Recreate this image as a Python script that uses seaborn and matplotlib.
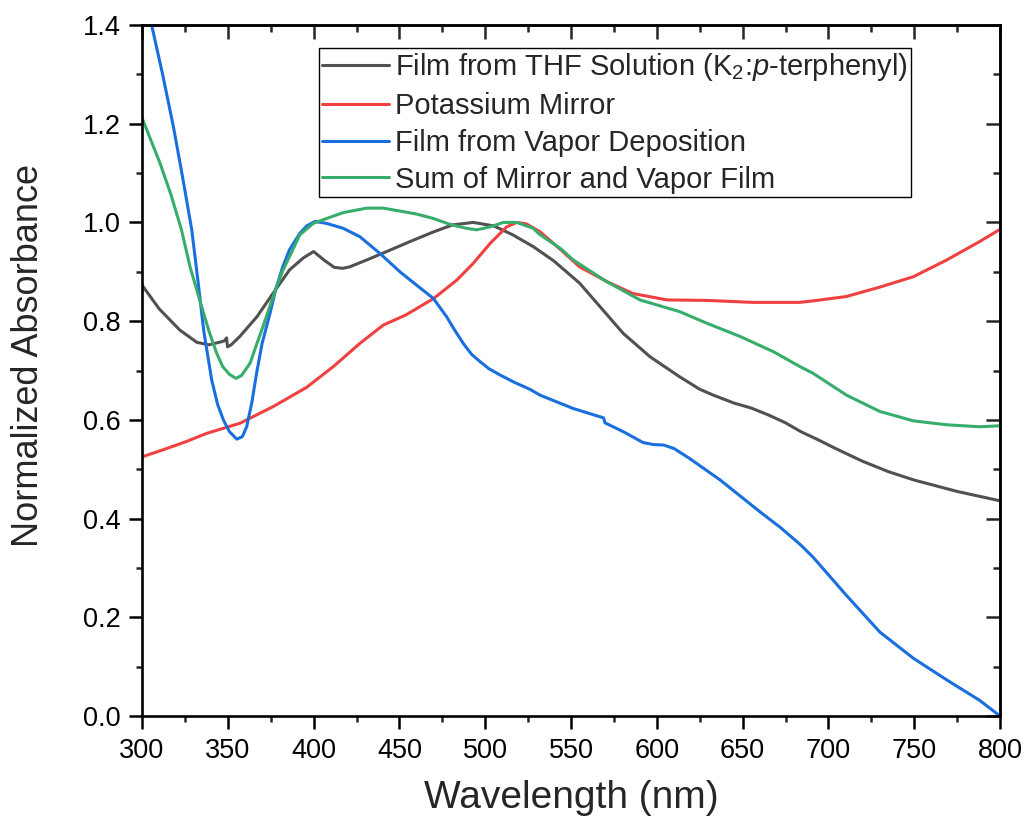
import matplotlib
matplotlib.use("Agg")
import matplotlib.pyplot as plt
from matplotlib.ticker import MultipleLocator, FormatStrFormatter
import pandas as pd
import seaborn as sns

# Film cast from THF solution (K2:p-terphenyl)
thf_nm = [300, 310, 322, 332, 339, 346, 348, 349.3, 349.8, 352, 357, 367, 376.5, 386,
          394, 400, 406, 412, 417, 421, 431, 442.6, 456, 470, 481, 493, 505, 516,
          528, 540, 555, 567, 580.5, 596, 613, 625, 633, 645, 655, 665, 675, 684,
          695, 703, 712, 720, 735, 750, 775, 800]
thf_abs = [0.873, 0.825, 0.782, 0.757, 0.752, 0.758, 0.760, 0.766, 0.748, 0.752, 0.769,
           0.809, 0.857, 0.904, 0.928, 0.941, 0.924, 0.909, 0.907, 0.910, 0.924, 0.941,
           0.961, 0.981, 0.995, 1.000, 0.993, 0.975, 0.951, 0.922, 0.877, 0.829, 0.775,
           0.728, 0.688, 0.662, 0.650, 0.634, 0.624, 0.610, 0.594, 0.576, 0.558, 0.544,
           0.529, 0.516, 0.495, 0.478, 0.455, 0.436]

# Potassium mirror
mirror_nm = [300, 312, 325, 338, 357, 376.5, 396, 411.5, 427, 440.6, 454, 470, 483.4,
             493, 503, 512.5, 518.4, 524, 532, 543.6, 555, 571, 586, 606, 629, 656,
             672, 683, 691, 710.6, 730, 749.5, 769, 788, 800]
mirror_abs = [0.525, 0.539, 0.555, 0.573, 0.593, 0.627, 0.666, 0.708, 0.755, 0.792,
              0.813, 0.846, 0.883, 0.917, 0.958, 0.991, 1.000, 0.997, 0.981, 0.946,
              0.910, 0.880, 0.856, 0.843, 0.842, 0.838, 0.838, 0.838, 0.841, 0.850,
              0.869, 0.890, 0.924, 0.961, 0.986]

# Film from vapor deposition
vapor_nm = [300, 305.6, 312, 318.3, 324, 329, 333, 336, 340.6, 344, 347.4, 351, 355.2,
            358.5, 361, 364, 366.8, 370, 374.6, 378, 382, 386, 392, 396, 400.8, 407.6,
            417.3, 427, 438.7, 450.3, 460, 469.8, 477.5, 482, 487.2, 492, 497, 502,
            508.6, 517, 526, 532, 551.3, 569, 569.8, 580.5, 592, 598, 604, 610, 619,
            637, 660, 672, 683.4, 691, 710.6, 730, 749.5, 769, 788, 800]
vapor_abs = [1.49, 1.40, 1.30, 1.194, 1.085, 0.985, 0.870, 0.780, 0.681, 0.632, 0.600,
             0.576, 0.561, 0.566, 0.586, 0.635, 0.695, 0.755, 0.816, 0.865, 0.910, 0.945,
             0.978, 0.993, 1.002, 0.998, 0.988, 0.971, 0.937, 0.900, 0.873, 0.846,
             0.809, 0.783, 0.755, 0.733, 0.718, 0.704, 0.691, 0.676, 0.662, 0.650,
             0.623, 0.604, 0.594, 0.576, 0.554, 0.550, 0.549, 0.542, 0.522, 0.478,
             0.414, 0.382, 0.348, 0.322, 0.244, 0.170, 0.117, 0.073, 0.032, 0.0]

# Sum of mirror and vapor-deposited film
sum_nm = [300, 310.5, 317, 323, 328, 334.8, 339, 343.5, 347, 351, 354.8, 358, 363, 366,
          370.5, 374.5, 378.5, 382, 386, 392, 399.8, 407.6, 417.3, 431, 440.6, 450.3,
          460, 469.8, 479.5, 489.2, 495, 502.8, 510.6, 518.4, 528, 532, 543.6, 551.3,
          570.8, 590.2, 601.9, 613.5, 629, 648.5, 668, 683.4, 691.2, 710.6, 730,
          749.5, 769, 788, 800]
sum_abs = [1.212, 1.120, 1.055, 0.985, 0.910, 0.829, 0.780, 0.735, 0.708, 0.692, 0.684,
           0.690, 0.715, 0.745, 0.789, 0.830, 0.870, 0.902, 0.931, 0.975, 0.998, 1.008,
           1.020, 1.029, 1.029, 1.023, 1.017, 1.008, 0.996, 0.988, 0.985, 0.991, 1.000,
           1.000, 0.988, 0.975, 0.948, 0.924, 0.880, 0.843, 0.831, 0.819, 0.796, 0.769,
           0.738, 0.708, 0.694, 0.650, 0.617, 0.598, 0.590, 0.586, 0.588]

series = [
    (r"Film from THF Solution (K$_2$:$p$-terphenyl)", thf_nm, thf_abs, "#515151"),
    ("Potassium Mirror", mirror_nm, mirror_abs, "#F14040"),
    ("Film from Vapor Deposition", vapor_nm, vapor_abs, "#1A6FDF"),
    ("Sum of Mirror and Vapor Film", sum_nm, sum_abs, "#37AD6B"),
]

sns.set_theme(style="ticks")
plt.rcParams["font.family"] = ["Liberation Sans", "DejaVu Sans"]
plt.rcParams["mathtext.fontset"] = "custom"
plt.rcParams["mathtext.rm"] = "Liberation Sans"
plt.rcParams["mathtext.it"] = "Liberation Sans:italic"

fig = plt.figure(figsize=(10.28, 8.24), dpi=100)
ax = fig.add_axes([142 / 1028, 1 - 716 / 824, 858 / 1028, 691 / 824])

for label, nm, ab, color in series:
    df = pd.DataFrame({"Wavelength": nm, "Absorbance": ab})
    sns.lineplot(data=df, x="Wavelength", y="Absorbance", sort=False, estimator=None,
                 color=color, linewidth=2.2, label=label, ax=ax)

ax.set_xlim(300, 800)
ax.set_ylim(0.0, 1.4)
ax.xaxis.set_major_locator(MultipleLocator(50))
ax.xaxis.set_minor_locator(MultipleLocator(25))
ax.yaxis.set_major_locator(MultipleLocator(0.2))
ax.yaxis.set_minor_locator(MultipleLocator(0.1))
ax.yaxis.set_major_formatter(FormatStrFormatter("%.1f"))

for sp in ax.spines.values():
    sp.set_linewidth(1.9)
    sp.set_color("black")

ax.tick_params(which="major", direction="out", length=9.5, width=1.8, labelsize=19.5,
               pad=6, colors="black")
ax.tick_params(which="minor", direction="out", length=4.5, width=1.8)

# inward mirror ticks on the top and right sides
top = ax.secondary_xaxis("top")
top.xaxis.set_major_locator(MultipleLocator(50))
top.xaxis.set_minor_locator(MultipleLocator(25))
top.tick_params(which="major", direction="in", length=10, width=1.8, labeltop=False)
top.tick_params(which="minor", direction="in", length=5, width=1.8)
top.spines["top"].set_linewidth(1.9)

right = ax.secondary_yaxis("right")
right.yaxis.set_major_locator(MultipleLocator(0.2))
right.yaxis.set_minor_locator(MultipleLocator(0.1))
right.tick_params(which="major", direction="in", length=10, width=1.8, labelright=False)
right.tick_params(which="minor", direction="in", length=5, width=1.8)
right.spines["right"].set_linewidth(1.9)

ax.set_xlabel("Wavelength (nm)", fontsize=28, labelpad=12)
ax.set_ylabel("Normalized Absorbance", fontsize=26)
ax.yaxis.set_label_coords(-0.112, 0.522)

leg = ax.legend(loc="upper left", bbox_to_anchor=(0.206, 0.967), frameon=True,
                fancybox=False, edgecolor="black", framealpha=1, fontsize=21,
                handlelength=2.3, handletextpad=0.2, labelspacing=0.3, borderpad=0.12,
                borderaxespad=0)
leg.get_frame().set_linewidth(1.0)

fig.savefig("out.png", dpi=100)
